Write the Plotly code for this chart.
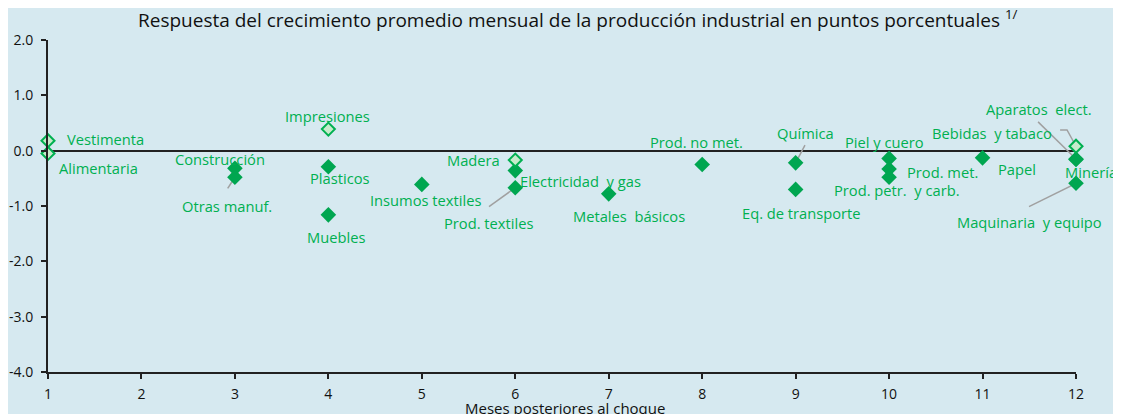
import plotly.graph_objects as go

# ---- data ----
sectors = ["Vestimenta", "Alimentaria", "Construcción", "Otras manuf.", "Impresiones",
           "Plasticos", "Muebles", "Insumos textiles", "Madera", "Electricidad  y gas",
           "Prod. textiles", "Metales  básicos", "Prod. no met.", "Química",
           "Eq. de transporte", "Piel y cuero", "Prod. met.", "Prod. petr.  y carb.",
           "Papel", "Aparatos  elect.", "Bebidas  y tabaco", "Minería", "Maquinaria  y equipo"]
months = [1, 1, 3, 3, 4, 4, 4, 5, 6, 6, 6, 7, 8, 9, 9, 10, 10, 10, 11, 12, 12, 12, 12]
response = [0.18, -0.05, -0.32, -0.48, 0.39, -0.29, -1.16, -0.61, -0.17, -0.36, -0.67,
            -0.78, -0.25, -0.22, -0.70, -0.14, -0.33, -0.48, -0.13, 0.08, -0.15, -0.16, -0.59]
hollow = [True, True, False, False, True, False, False, False, True, False, False,
          False, False, False, False, False, False, False, False, True, False, False, False]
# label offsets (in data units) relative to each point
label_dx = [0.615, 0.54, -0.16, -0.08, -0.01, 0.125, 0.08, 0.04, -0.45, 0.70, -0.29,
            0.217, -0.066, 0.11, 0.063, -0.047, 0.572, 0.08, 0.37, -0.395, -0.90, 0.165, -0.495]
label_dy = [0.03, -0.26, 0.17, -0.52, 0.24, -0.20, -0.405, -0.29, 0.0, -0.19, -0.63,
            -0.40, 0.40, 0.545, -0.43, 0.30, -0.05, -0.23, -0.20, 0.674, 0.475, -0.22, -0.70]
# leader lines: index of sector, tail offset (data units)
leaders = [(3, -0.077, -0.20), (10, -0.281, -0.34), (13, 0.10, 0.32),
           (20, -0.406, 0.67), (22, -0.503, -0.42)]

x_ticks = list(range(1, 13))
y_ticks = [2.0, 1.0, 0.0, -1.0, -2.0, -3.0, -4.0]
X_RANGE = [1, 12]

GREEN = "#00B050"
MARK = "#00A650"
LIGHT = "#C6EBCB"
BG = "#D6E9F0"
FONT = "Open Sans"

fig = go.Figure()

# leader lines
for i, dx, dy in leaders:
    fig.add_trace(go.Scatter(x=[months[i] + dx, months[i]], y=[response[i] + dy, response[i]],
                             mode="lines", line=dict(color="#A0A0A0", width=1.5),
                             hoverinfo="skip", showlegend=False, cliponaxis=False))
# elbow leader for Aparatos elect.
ia = 19
fig.add_trace(go.Scatter(x=[months[ia] - 0.17, months[ia] - 0.096, months[ia]],
                         y=[response[ia] + 0.294, response[ia] + 0.294, response[ia]],
                         mode="lines", line=dict(color="#A0A0A0", width=1.5),
                         hoverinfo="skip", showlegend=False, cliponaxis=False))

fx = [m for m, h in zip(months, hollow) if not h]
fy = [r for r, h in zip(response, hollow) if not h]
hx = [m for m, h in zip(months, hollow) if h]
hy = [r for r, h in zip(response, hollow) if h]

fig.add_trace(go.Scatter(x=fx, y=fy, mode="markers", cliponaxis=False, showlegend=False,
                         marker=dict(symbol="diamond", size=12, color=MARK,
                                     line=dict(width=0))))
fig.add_trace(go.Scatter(x=hx, y=hy, mode="markers", cliponaxis=False, showlegend=False,
                         marker=dict(symbol="diamond", size=10, color=LIGHT,
                                     line=dict(width=2, color=GREEN))))

span = X_RANGE[1] - X_RANGE[0]
for s, m, r, dx, dy in zip(sectors, months, response, label_dx, label_dy):
    fig.add_annotation(xref="paper", yref="y", x=(m + dx - X_RANGE[0]) / span, y=r + dy,
                       text=s, showarrow=False,
                       font=dict(family=FONT, size=14.7, color=GREEN),
                       xanchor="center", yanchor="middle")

fig.add_annotation(xref="paper", yref="paper", x=0.5146, y=1.062,
                   text="Respuesta del crecimiento promedio mensual de la producción industrial en puntos porcentuales <sup>1/</sup>",
                   showarrow=False, font=dict(family=FONT, size=19, color="#111"),
                   xanchor="center", yanchor="middle")
fig.add_annotation(xref="paper", yref="paper", x=0.503, y=-0.108,
                   text="Meses posteriores al choque",
                   showarrow=False, font=dict(family=FONT, size=15, color="#111"),
                   xanchor="center", yanchor="middle")

# page body has an 8px margin: size the figure to fill the rest of the window
fig.update_layout(
    width=1113, height=406,
    margin=dict(l=40, r=45, t=32, b=42),
    paper_bgcolor=BG, plot_bgcolor=BG,
    font=dict(family=FONT, size=14, color="#111"),
    showlegend=False,
)
fig.update_xaxes(range=X_RANGE, tickvals=x_ticks, ticktext=[str(t) for t in x_ticks],
                 automargin=False, ticklabelstandoff=3,
                 showgrid=False, zeroline=False, showline=True, linecolor="#222",
                 linewidth=2, ticks="outside", ticklen=5, tickwidth=2, tickcolor="#222",
                 tickfont=dict(size=14))
fig.update_yaxes(range=[-4, 2], tickvals=y_ticks, ticktext=[f"{t:.1f}" for t in y_ticks],
                 automargin=False, ticklabelstandoff=5,
                 showgrid=False, zeroline=True, zerolinecolor="#222", zerolinewidth=2,
                 showline=True, linecolor="#222", linewidth=2, ticks="outside",
                 ticklen=5, tickwidth=2, tickcolor="#222", tickfont=dict(size=14))

fig.write_html("out.html")
